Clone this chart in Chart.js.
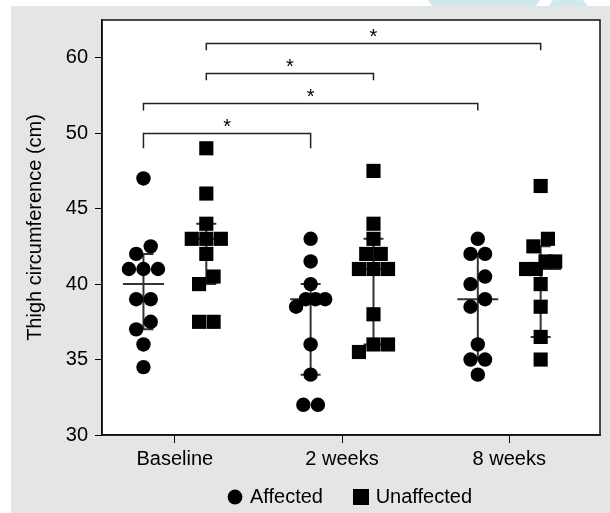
<!DOCTYPE html>
<html>
<head>
<meta charset="utf-8">
<script src="https://cdn.jsdelivr.net/npm/chart.js@4.4.1/dist/chart.umd.min.js"></script>
<style>
  html, body { margin: 0; padding: 0; background: #fff; }
  canvas { display: block; }
</style>
</head>
<body>
<canvas id="grafico" width="610" height="513"></canvas>
<script>
// dados
const categories = ['Baseline', '2 weeks', '8 weeks'];

const affectedBaseline = [47, 42.5, 42, 41, 41, 41, 39, 39, 37.5, 37, 36, 34.5];
const affected2Weeks = [43, 41.5, 40, 39, 39, 39, 38.5, 36, 34, 32, 32];
const affected8Weeks = [43, 42, 42, 40.5, 40, 39, 38.5, 36, 35, 35, 34];

const unaffectedBaseline = [49, 46, 44, 43, 43, 43, 42, 40.5, 40, 37.5, 37.5];
const unaffected2Weeks = [47.5, 44, 43, 42, 42, 41, 41, 41, 38, 36, 36, 35.5];
const unaffected8Weeks = [46.5, 43, 42.5, 41.5, 41.5, 41, 41, 40, 38.5, 36.5, 35];

// mediana e intervalo (barras)
const affectedMedian = [40, 39, 39];
const affectedLow = [37, 34, 35];
const affectedHigh = [42, 40, 42];
const unaffectedMedian = [43, 41, 41];
const unaffectedLow = [40, 36, 36.5];
const unaffectedHigh = [44, 43, 42.5];

const yTickLabels = [30, 35, 40, 45, 50, 60];

// comparações com asterisco
const pairGroup = ['affected', 'affected', 'unaffected', 'unaffected'];
const pairFrom = [0, 0, 0, 0];
const pairTo = [1, 2, 1, 2];
const pairLevel = [50, 54, 58, 62];
const pairLabel = ['*', '*', '*', '*'];

const affected = [affectedBaseline, affected2Weeks, affected8Weeks];
const unaffected = [unaffectedBaseline, unaffected2Weeks, unaffected8Weeks];

const groupShift = 0.188;
const dotStep = 0.087;
const fonte = "'Liberation Sans', Arial, sans-serif";

// eixo quebrado: acima de 50 a escala vale a metade
const toAxis = v => v <= 50 ? v : 50 + (v - 50) / 2;

// espalha pontos com valores próximos lado a lado
function spread(values, cat, shift) {
  const sorted = [...values].sort((a, b) => a - b);
  const pts = [];
  let cluster = [];
  const flush = () => {
    const n = cluster.length;
    const gap = n > 1 ? Math.min(dotStep, 2 * dotStep / (n - 1)) : 0;
    cluster.forEach((v, k) => pts.push({ x: cat + shift + (k - (n - 1) / 2) * gap, y: toAxis(v) }));
    cluster = [];
  };
  sorted.forEach(v => {
    if (cluster.length && v - cluster[cluster.length - 1] >= 1) flush();
    cluster.push(v);
  });
  flush();
  return pts;
}

function marker(kind) {
  const c = document.createElement('canvas');
  c.width = 16; c.height = 16;
  const g = c.getContext('2d');
  g.fillStyle = '#000';
  if (kind === 'circle') {
    g.beginPath(); g.arc(8, 8, 7.4, 0, Math.PI * 2); g.fill();
  } else {
    g.fillRect(0, 0, 16, 16);
  }
  return c;
}
const legendMarks = [marker('circle'), marker('rect')];
const legendGap = ['\u00a0\u00a0\u00a0\u2009', ''];

const fundo = {
  id: 'fundo',
  beforeDraw(chart) {
    const { ctx, chartArea: a } = chart;
    ctx.save();
    ctx.fillStyle = '#fff';
    ctx.fillRect(0, 0, chart.width, chart.height);
    ctx.fillStyle = '#e4e5e5';
    ctx.fillRect(11, 6, chart.width - 11, chart.height - 6);
    ctx.fillStyle = '#cfe9ef';
    ctx.beginPath(); ctx.moveTo(428, 0); ctx.lineTo(540, 0); ctx.lineTo(536, 6); ctx.lineTo(432, 6); ctx.fill();
    ctx.beginPath(); ctx.moveTo(553, 0); ctx.lineTo(583, 0); ctx.lineTo(588, 6); ctx.lineTo(549, 6); ctx.fill();
    ctx.fillStyle = '#fff';
    ctx.fillRect(a.left, a.top, a.right - a.left, a.bottom - a.top);
    ctx.restore();
  }
};

const barras = {
  id: 'barras',
  beforeDatasetsDraw(chart) {
    const { ctx, scales: { x, y } } = chart;
    ctx.save();
    ctx.strokeStyle = '#333';
    ctx.lineWidth = 2;
    const desenha = (cat, shift, med, lo, hi) => {
      const cx = x.getPixelForValue(cat + shift);
      const ym = y.getPixelForValue(med), yl = y.getPixelForValue(lo), yh = y.getPixelForValue(hi);
      ctx.beginPath();
      ctx.moveTo(cx, yh); ctx.lineTo(cx, yl);
      ctx.moveTo(cx - 20.5, ym); ctx.lineTo(cx + 20.5, ym);
      ctx.moveTo(cx - 10, yh); ctx.lineTo(cx + 10, yh);
      ctx.moveTo(cx - 10, yl); ctx.lineTo(cx + 10, yl);
      ctx.stroke();
    };
    categories.forEach((c, i) => {
      desenha(i, -groupShift, affectedMedian[i], affectedLow[i], affectedHigh[i]);
      desenha(i, groupShift, unaffectedMedian[i], unaffectedLow[i], unaffectedHigh[i]);
    });
    ctx.restore();
  }
};

const colchetes = {
  id: 'colchetes',
  afterDatasetsDraw(chart) {
    const { ctx, scales: { x, y }, chartArea: a } = chart;
    ctx.save();
    ctx.strokeStyle = '#222';
    ctx.lineWidth = 1.5;
    ctx.fillStyle = '#000';
    ctx.font = '20px ' + fonte;
    ctx.textAlign = 'center';
    ctx.textBaseline = 'alphabetic';
    pairLevel.forEach((lvl, k) => {
      const s = pairGroup[k] === 'affected' ? -groupShift : groupShift;
      const x1 = x.getPixelForValue(pairFrom[k] + s);
      const x2 = x.getPixelForValue(pairTo[k] + s);
      const yl = Math.round(y.getPixelForValue(toAxis(lvl))) + 0.5;
      const yd = y.getPixelForValue(toAxis(lvl - 1));
      ctx.beginPath();
      ctx.moveTo(x1, yd); ctx.lineTo(x1, yl); ctx.lineTo(x2, yl); ctx.lineTo(x2, yd);
      ctx.stroke();
      ctx.fillText(pairLabel[k], (x1 + x2) / 2, yl - 1);
    });
    // moldura do gráfico
    ctx.strokeStyle = '#111';
    ctx.lineWidth = 1.5;
    ctx.strokeRect(a.left, a.top, a.right - a.left, a.bottom - a.top);
    ctx.restore();
  }
};

Chart.defaults.font.family = fonte;
Chart.defaults.font.size = 20;
Chart.defaults.color = '#000';

new Chart(document.getElementById('grafico'), {
  type: 'scatter',
  data: {
    datasets: [{
      label: 'Affected',
      data: categories.flatMap((c, i) => spread(affected[i], i, -groupShift)),
      pointStyle: 'circle',
      pointRadius: 7.2,
      pointBorderWidth: 0,
      backgroundColor: '#000',
      borderColor: '#000'
    }, {
      label: 'Unaffected',
      data: categories.flatMap((c, i) => spread(unaffected[i], i, groupShift)),
      pointStyle: 'rect',
      pointRadius: 10,
      pointBorderWidth: 0,
      backgroundColor: '#000',
      borderColor: '#000'
    }]
  },
  options: {
    responsive: false,
    animation: false,
    layout: { padding: { top: 20, right: 9, left: 0, bottom: -4 } },
    scales: {
      x: {
        type: 'linear',
        min: -0.436,
        max: 2.543,
        afterBuildTicks: s => { s.ticks = categories.map((c, i) => ({ value: i })); },
        afterFit: s => { s.height = 40; },
        ticks: { callback: v => categories[v], padding: 4, maxRotation: 0 },
        grid: { drawOnChartArea: false, tickLength: 8, color: '#000', lineWidth: 1 },
        border: { color: '#000', width: 1.5 }
      },
      y: {
        min: 30,
        max: toAxis(65),
        afterBuildTicks: s => { s.ticks = yTickLabels.map(v => ({ value: toAxis(v) })); },
        afterFit: s => { s.width = 102; },
        ticks: { callback: (v, i) => yTickLabels[i], padding: 7 },
        grid: { drawOnChartArea: false, tickLength: 7, color: '#000', lineWidth: 1 },
        border: { color: '#000', width: 1.5 },
        title: { display: true, text: 'Thigh circumference (cm)', padding: { top: 23, bottom: 0 } }
      }
    },
    plugins: {
      tooltip: { enabled: false },
      legend: {
        position: 'bottom',
        fullSize: false,
        labels: {
          usePointStyle: true,
          boxWidth: 10,
          boxHeight: 10,
          padding: 12,
          generateLabels: chart => Chart.defaults.plugins.legend.labels.generateLabels(chart)
            .map((item, i) => ({ ...item, text: item.text + legendGap[i], pointStyle: legendMarks[i] }))
        }
      }
    }
  },
  plugins: [fundo, barras, colchetes]
});
</script>
</body>
</html>
